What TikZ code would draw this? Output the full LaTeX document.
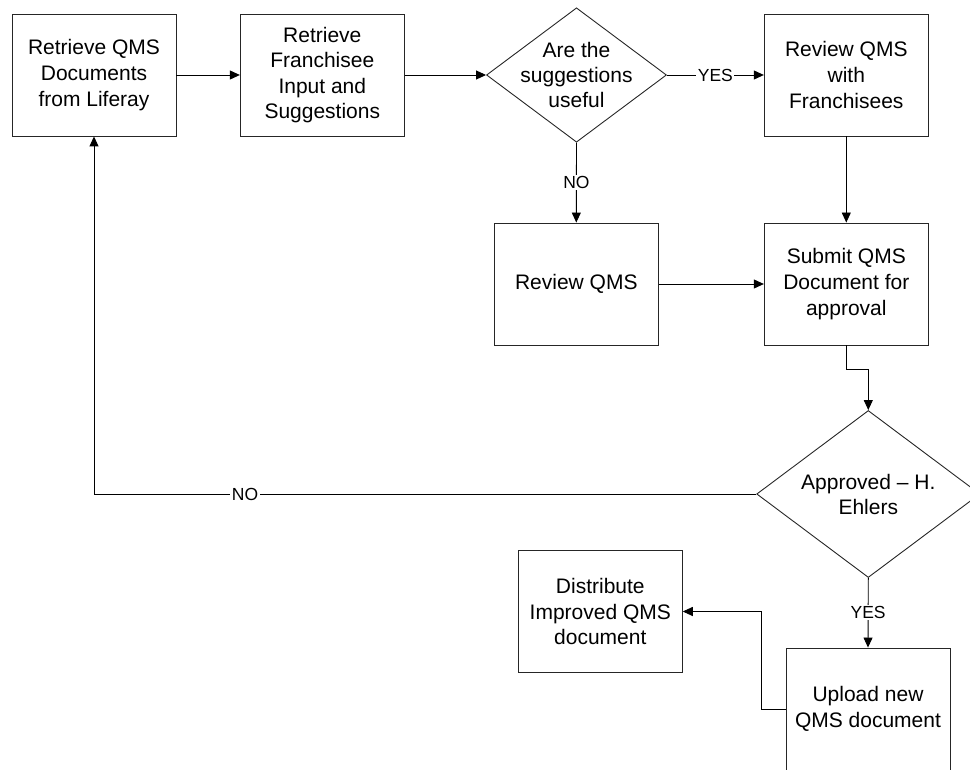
\documentclass[tikz,border=0pt]{standalone}
\usepackage{fontspec}
\setmainfont{Liberation Sans}
\usetikzlibrary{shapes.geometric,arrows.meta}
\begin{document}
\begin{tikzpicture}[x=1pt,y=-1pt,
  line width=0.9pt,
  stepbox/.style={draw=black!85, rectangle, minimum width=164pt, minimum height=122pt,
    inner sep=0pt, align=center, font=\fontsize{21}{25.6}\selectfont},
  decision/.style={draw=black!85, diamond, inner sep=0pt},
  dtext/.style={align=center, inner sep=0pt, font=\fontsize{21}{25}\selectfont},
  arr/.style={draw=black, -{Triangle[length=10pt,width=9pt]}},
  lbl/.style={fill=white, inner sep=1.5pt, font=\fontsize{17.5}{20}\selectfont}]
\useasboundingbox (0,0) rectangle (970,770);
\clip (0,0) rectangle (970,770);

% process boxes
\node[stepbox] (b1) at (94,75) {Retrieve QMS\\Documents\\from Liferay};
\node[stepbox] (b2) at (322.3,75) {Retrieve\\Franchisee\\Input and\\Suggestions};
\node[stepbox] (b3) at (846.3,75) {Review QMS\\with\\Franchisees};
\node[stepbox] (b4) at (576.3,284) {Review QMS};
\node[stepbox] (b5) at (846.3,284) {Submit QMS\\Document for\\approval};
\node[stepbox] (b6) at (600.3,611.5) {Distribute\\Improved QMS\\document};
\node[stepbox] (b7) at (868,709) {Upload new\\QMS document};

% decisions
\node[decision, minimum width=180pt, minimum height=134.4pt] (d1) at (576.5,75) {};
\node[dtext] (d1t) at (d1.center) {Are the\\suggestions\\useful};
\node[decision, minimum width=223.2pt, minimum height=167pt] (d2) at (868.3,494) {};
\node[dtext] (d2t) at (d2.center) {Approved – H.\\Ehlers};

% connectors
\draw[arr] (b1.east) -- (b2.west);
\draw[arr] (b2.east) -- (d1.west);
\draw[arr] (d1.east) -- node[lbl]{YES} (b3.west);
\draw[arr] (d1.south) -- node[lbl]{NO} (b4.north);
\draw[arr] (b3.south) -- (b5.north);
\draw[arr] (b4.east) -- (b5.west);
\draw[arr] (b5.south) -- ++(0,24.3) -| (d2.north);
\draw[arr] (d2.west) -| node[lbl, pos=0.386]{NO} (b1.south);
\draw[arr] (d2.south) -- node[lbl]{YES} (b7.north);
\draw[arr] (b7.west) -- ++(-24.3,0) |- (b6.east);
\end{tikzpicture}
\end{document}
